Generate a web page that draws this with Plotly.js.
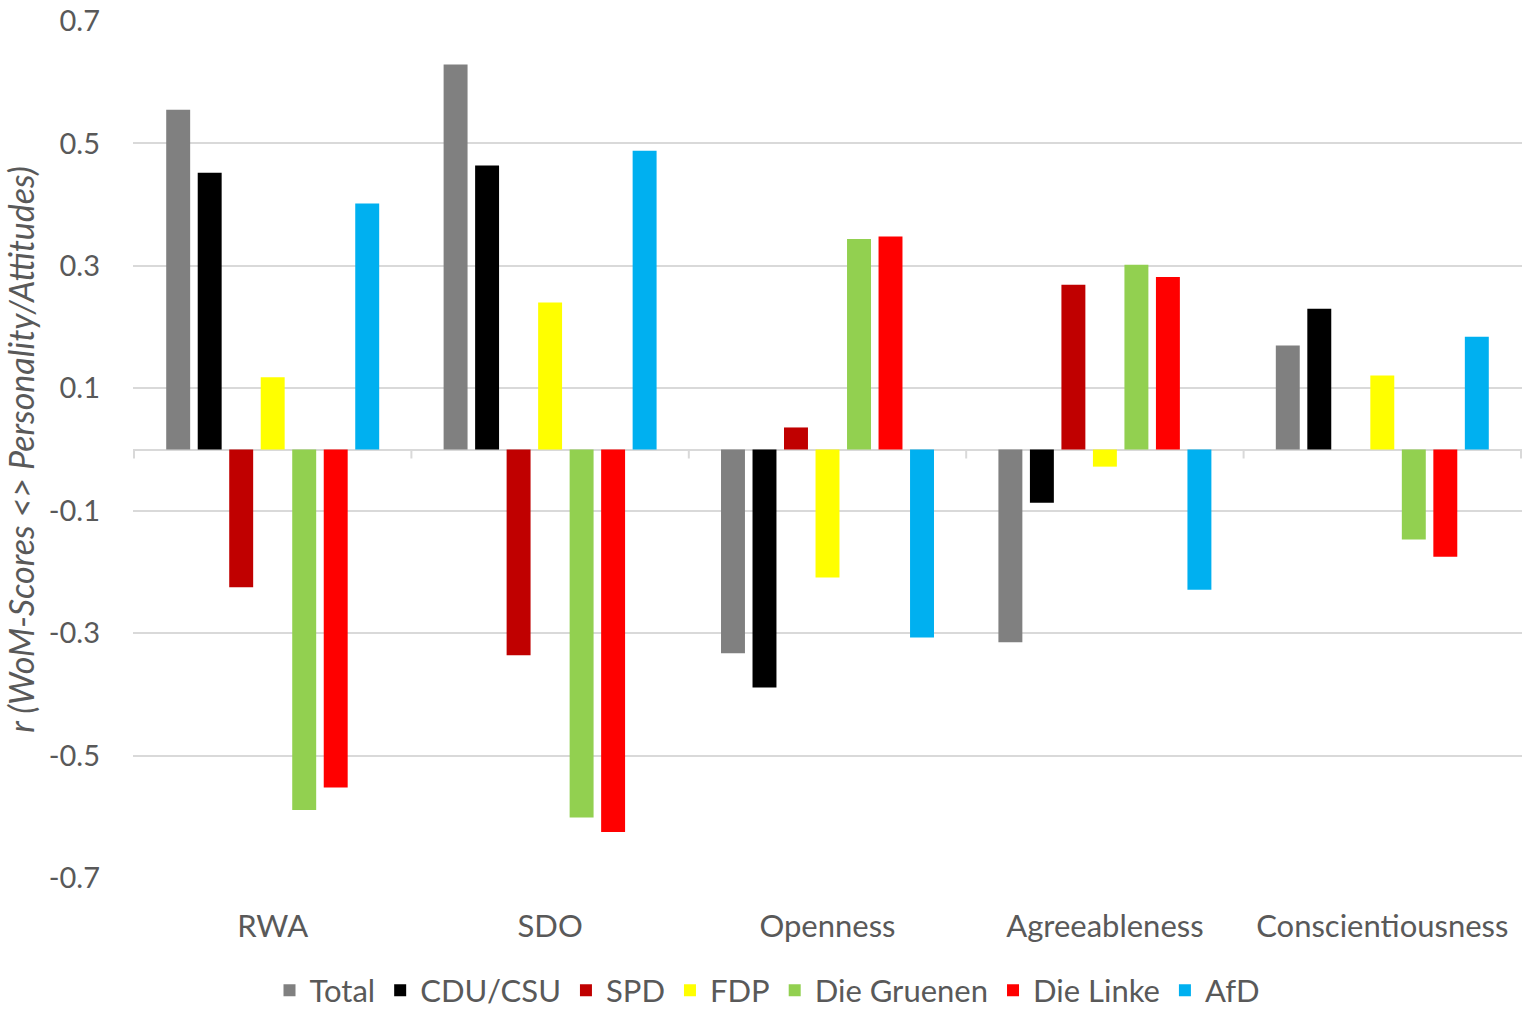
<!DOCTYPE html>
<html>
<head>
<meta charset="utf-8">
<script src="https://cdn.plot.ly/plotly-3.0.1.min.js"></script>
<style>
  html, body { margin: 0; padding: 0; background: #fff; }
  #plot { width: 1535px; height: 1017px; }
</style>
</head>
<body>
<div id="plot"></div>
<script>
"use strict";

const categories = ["RWA", "SDO", "Openness", "Agreeableness", "Conscientiousness"];

const partyNames = ["Total", "CDU/CSU", "SPD", "FDP", "Die Gruenen", "Die Linke", "AfD"];
const partyColors = ["#808080", "#000000", "#c00000", "#ffff00", "#92d050", "#ff0000", "#00b0f0"];

// correlations per party, one value per category
const totalValues = [0.555, 0.629, -0.333, -0.315, 0.170];
const cduValues = [0.452, 0.464, -0.389, -0.087, 0.230];
const spdValues = [-0.225, -0.336, 0.036, 0.269, 0.0];
const fdpValues = [0.118, 0.240, -0.209, -0.028, 0.121];
const gruenenValues = [-0.589, -0.601, 0.344, 0.302, -0.147];
const linkeValues = [-0.552, -0.625, 0.348, 0.282, -0.175];
const afdValues = [0.402, 0.488, -0.307, -0.229, 0.184];

const yTickVals = [-0.7, -0.5, -0.3, -0.1, 0.1, 0.3, 0.5, 0.7];
const yTickText = ["-0.7", "-0.5", "-0.3", "-0.1", "0.1", "0.3", "0.5", "0.7"];

const seriesValues = [totalValues, cduValues, spdValues, fdpValues, gruenenValues, linkeValues, afdValues];

const textColor = "#595959";
const gridColor = "#d9d9d9";
const fontFamily = "Lato, 'Open Sans', sans-serif";

const data = partyNames.map((name, i) => ({
  type: "bar",
  name: name,
  x: categories,
  y: seriesValues[i],
  marker: { color: partyColors[i], line: { width: 0 } },
  hoverinfo: "x+y+name",
}));

// small tick marks on the zero line at the category boundaries
const boundaryTicks = [];
for (let i = 0; i <= categories.length; i++) {
  boundaryTicks.push({
    type: "line",
    xref: "x",
    yref: "y",
    ysizemode: "pixel",
    yanchor: 0,
    x0: i - 0.5,
    x1: i - 0.5,
    y0: 0,
    y1: -9,
    line: { color: gridColor, width: 2 },
  });
}

const layout = {
  width: 1535,
  height: 1017,
  margin: { l: 133, r: 13, t: 21, b: 139 },
  paper_bgcolor: "#ffffff",
  plot_bgcolor: "#ffffff",
  font: { family: fontFamily, size: 29, color: textColor },
  barmode: "group",
  bargap: 0.205,
  bargroupgap: 0.24,
  showlegend: true,
  shapes: boundaryTicks,
  legend: {
    orientation: "h",
    xref: "container",
    yref: "container",
    x: 0.5,
    xanchor: "center",
    y: 0.026,
    yanchor: "middle",
    font: { size: 31, color: textColor },
    itemwidth: 30,
    traceorder: "normal",
  },
  xaxis: {
    type: "category",
    showline: false,
    showgrid: false,
    zeroline: false,
    ticks: "",
    ticklabelstandoff: 27,
    tickfont: { size: 31, color: textColor },
  },
  yaxis: {
    range: [-0.7, 0.7],
    tickvals: yTickVals,
    ticktext: yTickText,
    showgrid: true,
    gridcolor: gridColor,
    gridwidth: 2,
    zeroline: true,
    zerolinecolor: gridColor,
    zerolinewidth: 2,
    showline: false,
    ticks: "",
    ticklabelstandoff: 32,
    tickfont: { size: 29, color: textColor },
    title: {
      text: "r (WoM-Scores <> Personality/Attitudes)",
      font: { size: 34, color: textColor, style: "italic" },
      standoff: 12,
    },
  },
};

Plotly.newPlot("plot", data, layout, { displayModeBar: false, staticPlot: true });
</script>
</body>
</html>
